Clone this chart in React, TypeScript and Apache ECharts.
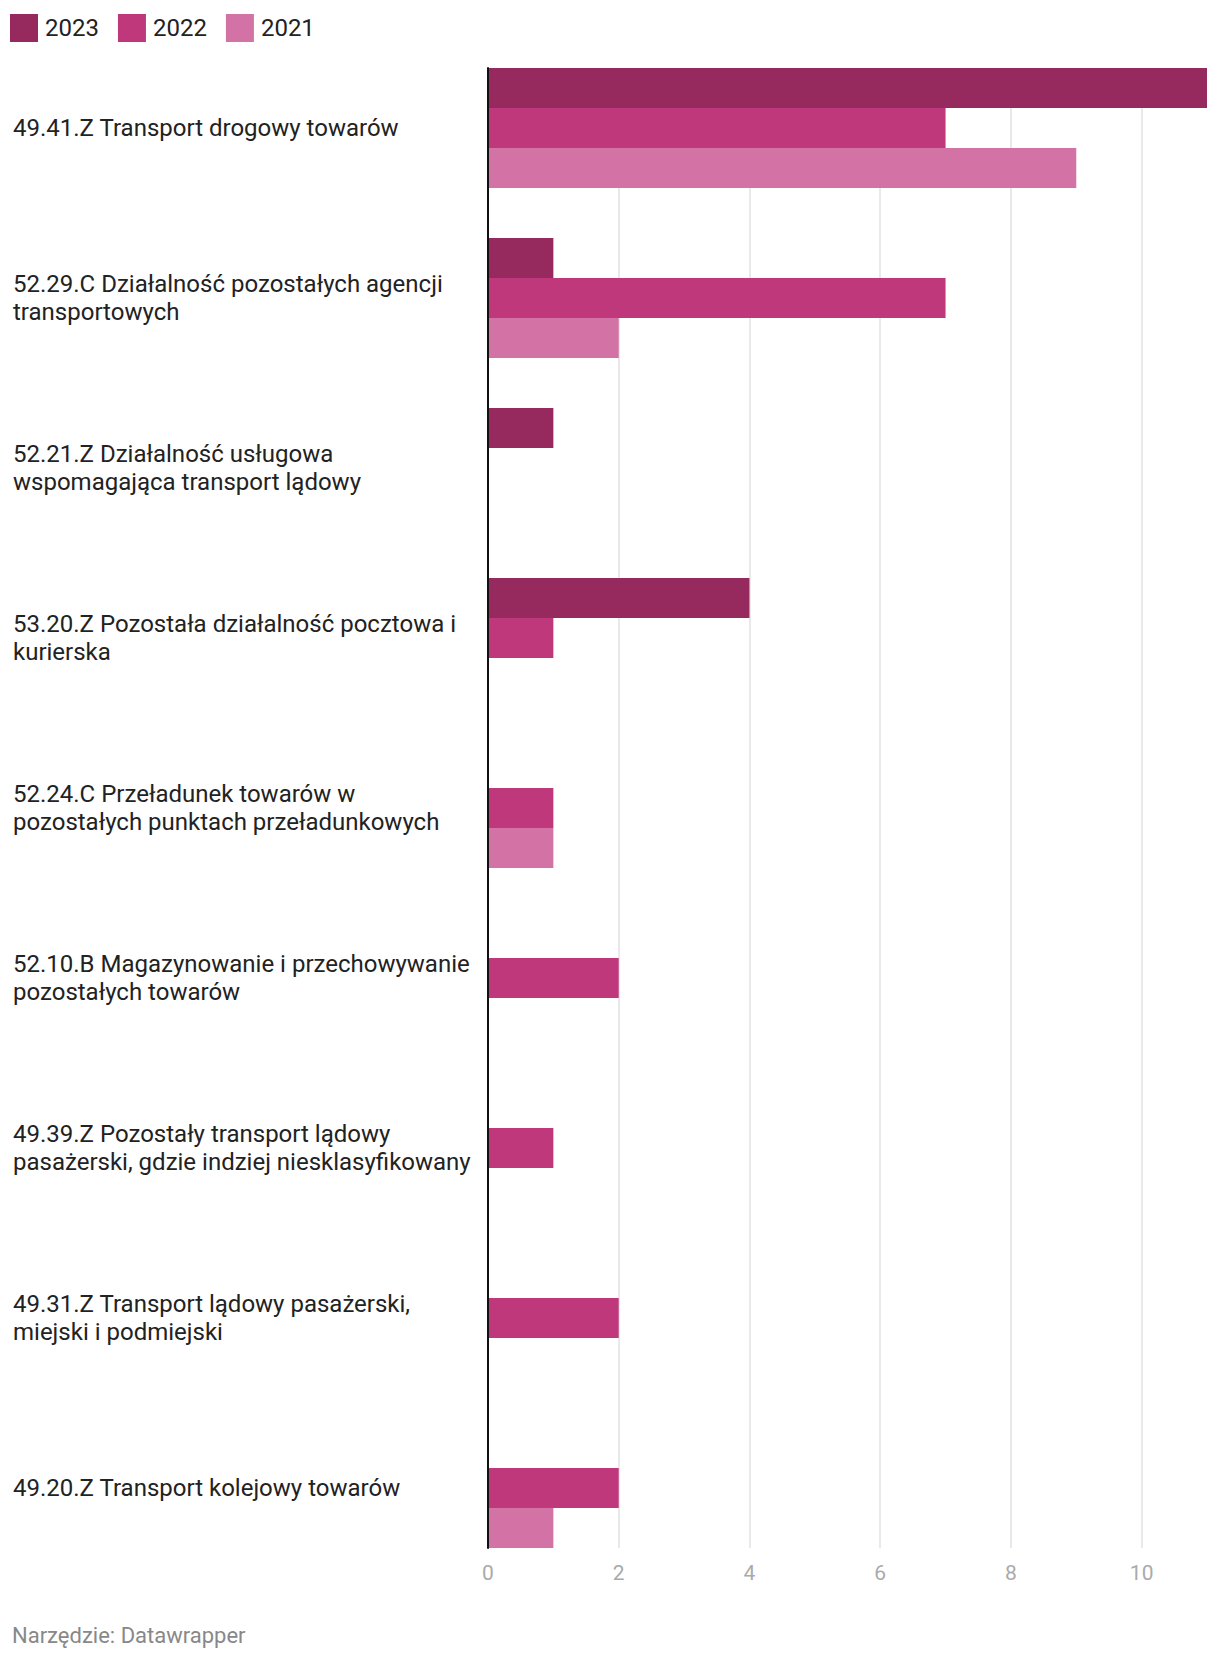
import React, { useEffect, useRef } from "react";
import * as echarts from "echarts";

const categories = [
  "49.41.Z Transport drogowy towarów",
  "52.29.C Działalność pozostałych agencji\ntransportowych",
  "52.21.Z Działalność usługowa\nwspomagająca transport lądowy",
  "53.20.Z Pozostała działalność pocztowa i\nkurierska",
  "52.24.C Przeładunek towarów w\npozostałych punktach przeładunkowych",
  "52.10.B Magazynowanie i przechowywanie\npozostałych towarów",
  "49.39.Z Pozostały transport lądowy\npasażerski, gdzie indziej niesklasyfikowany",
  "49.31.Z Transport lądowy pasażerski,\nmiejski i podmiejski",
  "49.20.Z Transport kolejowy towarów",
];

const values2023 = [11, 1, 1, 4, null, null, null, null, null];
const values2022 = [7, 7, null, 1, 1, 2, 1, 2, 2];
const values2021 = [9, 2, null, null, 1, null, null, null, 1];

const seriesNames = ["2023", "2022", "2021"];
const colors = ["#96295e", "#bf387b", "#d372a4"];

const FONT = "Roboto, 'Noto Sans', sans-serif";

export default function App() {
  const ref = useRef<HTMLDivElement>(null);
  useEffect(() => {
    if (!ref.current) return;
    const chart = echarts.init(ref.current, undefined, { renderer: "svg" });
    const data = [values2023, values2022, values2021];
    chart.setOption({
      animation: false,
      textStyle: { fontFamily: FONT },
      color: colors,
      legend: {
        left: 10,
        top: 14,
        padding: 0,
        itemWidth: 28,
        itemHeight: 28,
        itemGap: 19,
        icon: "rect",
        data: seriesNames,
        textStyle: { fontSize: 24, color: "#222", fontFamily: FONT, padding: [0, 0, 0, 2] },
      },
      grid: [
        { left: 488, right: 13, top: 43, height: 1530 },
        { left: 488, right: 13, top: 68, height: 1480 },
      ],
      xAxis: [
        {
          gridIndex: 0,
          type: "value",
          min: 0,
          max: 11,
          show: false,
          splitLine: { show: false },
        },
        {
          gridIndex: 1,
          type: "value",
          min: 0,
          max: 11,
          interval: 2,
          axisLine: { show: false },
          axisTick: { show: false },
          axisLabel: {
            color: "#aaaaaa",
            fontSize: 21,
            fontFamily: FONT,
            margin: 14,
            showMaxLabel: false,
          },
          splitLine: {
            show: true,
            showMinLine: false,
            showMaxLine: false,
            lineStyle: { color: "#e2e2e2", width: 1.5 },
          },
        },
      ],
      yAxis: [
        {
          gridIndex: 0,
          type: "category",
          inverse: true,
          data: categories,
          axisLine: { show: false },
          axisTick: { show: false },
          axisLabel: {
            align: "left",
            margin: 475,
            fontSize: 24,
            lineHeight: 27.6,
            color: "#222",
            fontFamily: FONT,
          },
        },
        {
          gridIndex: 1,
          type: "value",
          min: 0,
          max: 1,
          z: 5,
          axisLine: { show: true, lineStyle: { color: "#111", width: 2 } },
          axisTick: { show: false },
          axisLabel: { show: false },
          splitLine: { show: false },
        },
      ],
      series: seriesNames.map((name, i) => ({
        name,
        type: "bar",
        xAxisIndex: 0,
        yAxisIndex: 0,
        data: data[i],
        barWidth: 40,
        barGap: "0%",
        itemStyle: { color: colors[i] },
      })),
      graphic: [
        {
          type: "text",
          left: 12,
          top: 1624,
          style: {
            text: "Narzędzie: Datawrapper",
            fontSize: 22,
            fill: "#888",
            fontFamily: FONT,
          },
        },
      ],
    });
    return () => chart.dispose();
  }, []);
  return (
    <div
      ref={ref}
      style={{ position: "absolute", left: 0, top: 0, width: 1220, height: 1662 }}
    />
  );
}
